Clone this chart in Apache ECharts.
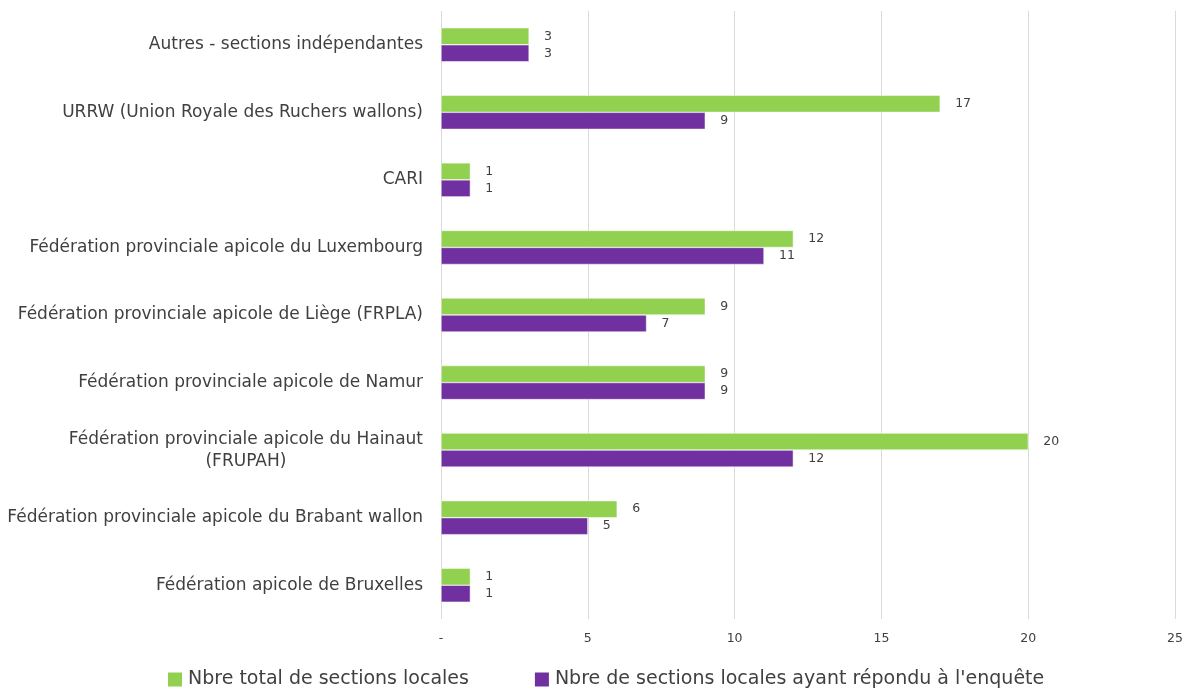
<!DOCTYPE html>
<html lang="fr">
<head>
<meta charset="UTF-8">
<title>Sections locales</title>
<style>
  html, body { margin: 0; padding: 0; background: #fff; }
  #main { width: 1186px; height: 694px; }
</style>
</head>
<body>
<div id="main"></div>
<script src="https://cdn.jsdelivr.net/npm/echarts@6/dist/echarts.min.js"></script>
<script>
  // categories, bottom to top
  var categories = [
    'Fédération apicole de Bruxelles',
    'Fédération provinciale apicole du Brabant wallon',
    'Fédération provinciale apicole du Hainaut\n(FRUPAH)',
    'Fédération provinciale apicole de Namur',
    'Fédération provinciale apicole de Liège (FRPLA)',
    'Fédération provinciale apicole du Luxembourg',
    'CARI',
    'URRW (Union Royale des Ruchers wallons)',
    'Autres - sections indépendantes'
  ];
  var totalSections = [1, 6, 20, 9, 9, 12, 1, 17, 3];
  var repondu = [1, 5, 12, 9, 7, 11, 1, 9, 3];
  var xTicks = [0, 5, 10, 15, 20, 25];

  var nameTotal = 'Nbre total de sections locales';
  var nameRep = "Nbre de sections locales ayant répondu à l'enquête";

  var font = '"DejaVu Sans", sans-serif';
  var myChart = echarts.init(document.getElementById('main'));

  var labelStyle = {
    show: true,
    position: 'right',
    distance: 15,
    color: '#404040',
    fontSize: 12.5,
    fontFamily: font
  };

  var option = {
    animation: false,
    textStyle: { fontFamily: font },
    legend: {
      data: [nameTotal, nameRep],
      bottom: 0,
      left: 161,
      itemWidth: 16,
      itemHeight: 16,
      itemGap: 64,
      icon: 'rect',
      textStyle: { fontSize: 19, color: '#404040', fontFamily: font }
    },
    grid: { left: 441, right: 10, top: 11, bottom: 75, containLabel: false },
    xAxis: {
      type: 'value',
      min: 0,
      max: 25,
      interval: 5,
      axisLine: { show: false },
      axisTick: { show: false },
      splitLine: { lineStyle: { color: '#d9d9d9', width: 1 } },
      axisLabel: {
        color: '#404040',
        fontSize: 12.5,
        margin: 13,
        fontFamily: font,
        formatter: function (v) {
          return xTicks.indexOf(v) === 0 ? '-' : String(v);
        }
      }
    },
    yAxis: {
      type: 'category',
      data: categories,
      axisLine: { show: false },
      axisTick: { show: false },
      axisLabel: {
        color: '#404040',
        fontSize: 17,
        margin: 18,
        lineHeight: 22,
        fontFamily: font,
        formatter: function (v) {
          if (v.indexOf('\n') >= 0) {
            return v.split('\n').map(function (s) { return '{c|' + s + '}'; }).join('\n');
          }
          return v;
        },
        rich: {
          c: { align: 'center', fontSize: 17, color: '#404040', fontFamily: font, lineHeight: 22 }
        }
      }
    },
    series: [
      {
        name: nameTotal,
        type: 'bar',
        data: totalSections,
        barWidth: 17,
        barGap: '0%',
        itemStyle: { color: '#92d050', borderColor: '#ffffff', borderWidth: 0.5 },
        label: labelStyle
      },
      {
        name: nameRep,
        type: 'bar',
        data: repondu,
        barWidth: 17,
        barGap: '0%',
        itemStyle: { color: '#7030a0', borderColor: '#ffffff', borderWidth: 0.5 },
        label: labelStyle
      }
    ]
  };
  myChart.setOption(option);
</script>
</body>
</html>
